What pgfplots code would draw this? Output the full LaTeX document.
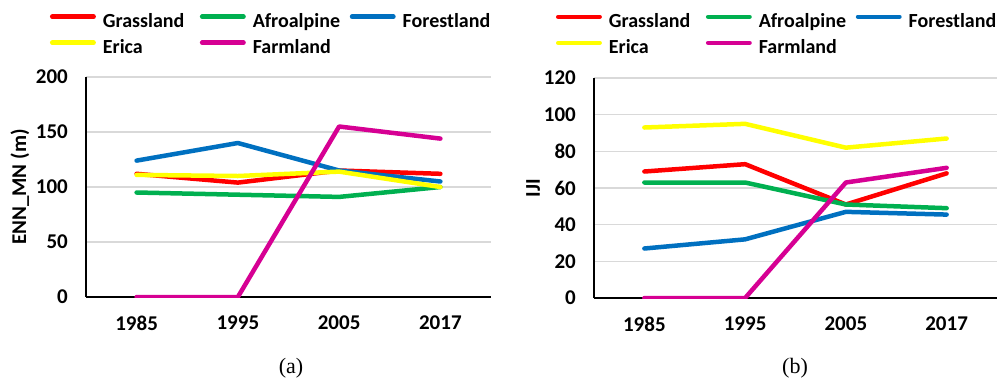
\documentclass[border=0pt]{standalone}
\usepackage{fontspec}
\setmainfont{Carlito}
\newfontfamily\capfont{Liberation Serif}
\usepackage{pgfplots}
\pgfplotsset{compat=1.18}

\definecolor{cGrass}{RGB}{255,0,0}
\definecolor{cAfro}{RGB}{0,176,80}
\definecolor{cForest}{RGB}{0,112,192}
\definecolor{cErica}{RGB}{255,255,0}
\definecolor{cFarm}{RGB}{214,0,147}
\definecolor{cGrid}{RGB}{217,217,217}

\pgfplotsset{
  lulc/.style={
    scale only axis, height=220pt,
    xmin=-0.5, xmax=3.5, ymin=0,
    xtick={0,1,2,3}, xticklabels={1985,1995,2005,2017},
    axis lines=left, axis line style={-, line width=1.6pt, black},
    ymajorgrids, grid style={draw=cGrid, line width=1.4pt},
    major tick length=0pt,
    /pgf/number format/assume math mode=true,
    tick label style={font=\fontsize{21}{25}\selectfont\bfseries, inner sep=0pt},
    yticklabel style={xshift=-18pt},
    xticklabel style={anchor=north, yshift=-19pt},
    label style={font=\fontsize{21}{25}\selectfont\bfseries},
    ylabel style={anchor=center},
    every axis plot/.append style={line width=4.5pt, line join=round, line cap=round},
    legend columns=3,
    legend image code/.code={\draw[#1, line cap=round] (2.3pt,6.5pt) -- (43.7pt,6.5pt);},
    legend style={draw=none, fill=none, inner sep=0pt, outer sep=0pt,
      anchor=north west, column sep=0pt, row sep=7pt,
      font=\fontsize{20}{24}\selectfont\bfseries,
      nodes={inner sep=0pt, text width=97pt, text height=14pt, text depth=5pt, align=left},
      /tikz/every odd column/.append style={column sep=7pt}},
  }
}

\begin{document}
\begin{tikzpicture}
\useasboundingbox (0,0) rectangle (998pt,-384pt);

% (a) mean Euclidean nearest-neighbour distance
\begin{axis}[lulc, at={(86pt,-297pt)}, anchor=south west, width=405pt,
  ymax=200, ytick={0,50,100,150,200},
  ylabel={ENN\_MN (m)}, ylabel style={at={(axis description cs:-0.163,0.5)}},
  legend style={at={(axis description cs:-0.0889,1.2877)}}]
\addplot[cGrass]  coordinates {(0,112) (1,104) (2,115) (3,112)};
\addplot[cAfro]   coordinates {(0,95) (1,93) (2,91) (3,100)};
\addplot[cForest] coordinates {(0,124) (1,140) (2,115) (3,105)};
\addplot[cErica]  coordinates {(0,111) (1,110) (2,114) (3,100)};
\addplot[cFarm]   coordinates {(0,0) (1,0) (2,155) (3,144)};
\legend{Grassland, Afroalpine, Forestland, Erica, Farmland}
\end{axis}

% (b) interspersion and juxtaposition index
\begin{axis}[lulc, at={(594pt,-298pt)}, anchor=south west, width=403pt,
  ymax=120, ytick={0,20,40,60,80,100,120},
  ylabel={IJI}, ylabel style={at={(axis description cs:-0.151,0.5)}},
  legend style={at={(axis description cs:-0.0943,1.292)}}]
\addplot[cGrass]  coordinates {(0,69) (1,73) (2,51) (3,68)};
\addplot[cAfro]   coordinates {(0,63) (1,63) (2,51) (3,49)};
\addplot[cForest] coordinates {(0,27) (1,32) (2,47) (3,45.5)};
\addplot[cErica]  coordinates {(0,93) (1,95) (2,82) (3,87)};
\addplot[cFarm]   coordinates {(0,0) (1,0) (2,63) (3,71)};
\legend{Grassland, Afroalpine, Forestland, Erica, Farmland}
\end{axis}

\node[font=\capfont\fontsize{22}{26}\selectfont] at (291pt,-368pt) {(a)};
\node[font=\capfont\fontsize{22}{26}\selectfont] at (795pt,-368pt) {(b)};
\end{tikzpicture}
\end{document}
